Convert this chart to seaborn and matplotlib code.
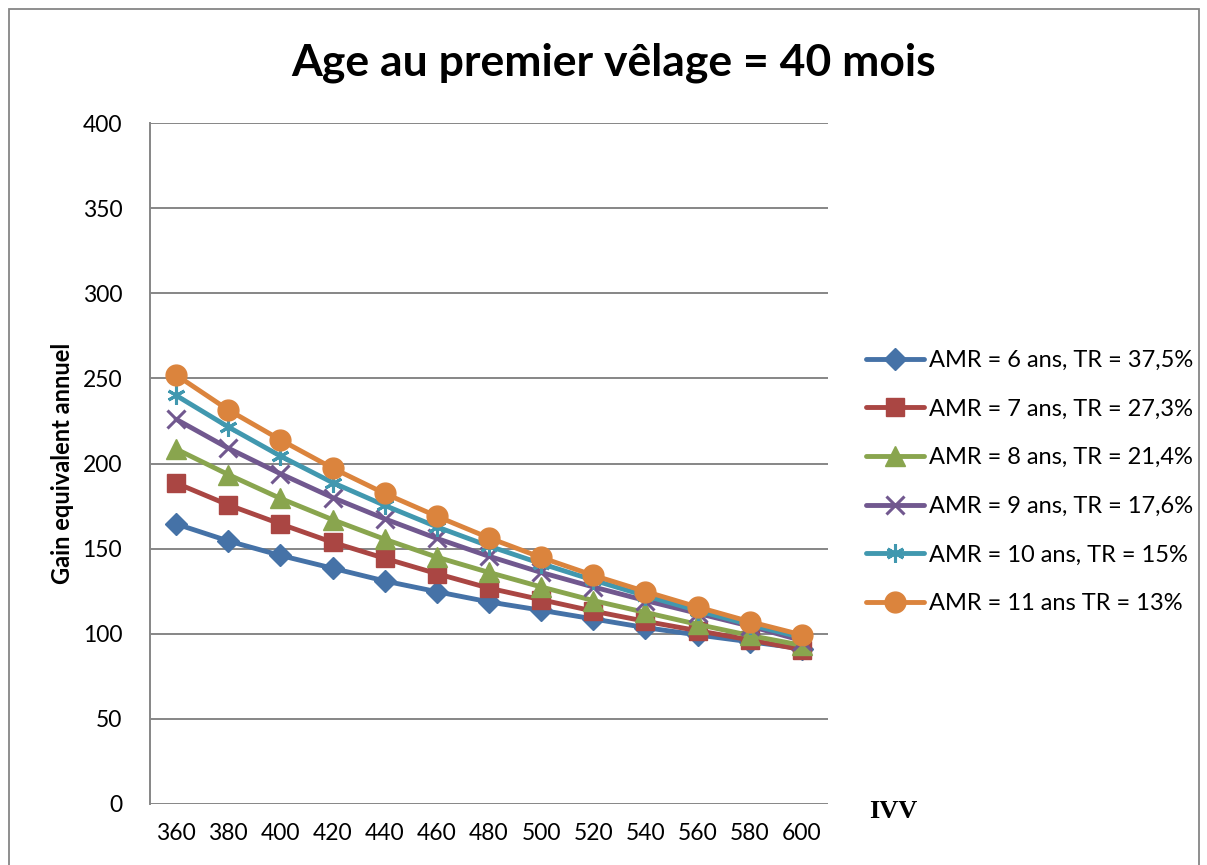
import numpy as np
import pandas as pd
import matplotlib
matplotlib.use("Agg")
import matplotlib.pyplot as plt
import seaborn as sns
from matplotlib.patches import Rectangle

ivv = [360, 380, 400, 420, 440, 460, 480, 500, 520, 540, 560, 580, 600]
amr6 = [164.5, 154.5, 146, 138.5, 131, 124.7, 118.7, 113.8, 108.7, 103.6, 99.3, 95.3, 91.3]
amr7 = [188.5, 175.7, 164.5, 153.7, 144.3, 135.3, 126.8, 120, 113.3, 107.3, 101.8, 96.4, 90.6]
amr8 = [208.5, 193.5, 179.5, 167, 155.5, 145, 136, 127.5, 119.5, 112.5, 105.5, 99, 93.2]
amr9 = [226, 209, 194, 180, 167.5, 156, 145.5, 136, 127.5, 119.5, 112, 104.5, 96]
amr10 = [240, 221.5, 204.4, 188.8, 175.4, 162.8, 151.5, 141.2, 131.5, 122.3, 113.6, 105.3, 97.8]
amr11 = [252, 231.5, 213.9, 197.3, 182.4, 169, 156.3, 144.8, 134.3, 124.8, 115.7, 107.1, 99.3]

labels = ["AMR = 6 ans, TR = 37,5%", "AMR = 7 ans, TR = 27,3%", "AMR = 8 ans, TR = 21,4%",
          "AMR = 9 ans, TR = 17,6%", "AMR = 10 ans, TR = 15%", "AMR = 11 ans TR = 13%"]
series = [amr6, amr7, amr8, amr9, amr10, amr11]
colors = ["#4572A7", "#AA4643", "#89A54E", "#71588F", "#4198AF", "#DB843D"]
markers = ["D", "s", "^", "x", (6, 2, 0), "o"]
msizes = [11, 13, 14, 13, 13, 15]

sns.set_theme(style="white")
plt.rcParams["font.family"] = ["Lato", "DejaVu Sans"]
plt.rcParams["text.color"] = "black"
plt.rcParams["axes.labelcolor"] = "black"

fig = plt.figure(figsize=(12.07, 8.65), dpi=100)
ax = fig.add_axes([150/1207, 1-804/865, (828-150)/1207, (804-123)/865])

for lab, vals, c, m, ms in zip(labels, series, colors, markers, msizes):
    df = pd.DataFrame({"IVV": ivv, "val": vals})
    sns.lineplot(data=df, x="IVV", y="val", ax=ax, color=c, linewidth=3.5,
                 marker=m, markersize=ms, markeredgecolor=c, markerfacecolor=c,
                 markeredgewidth=2.2 if m in ("x", (6, 2, 0)) else 1,
                 label=lab)

ax.set_xlim(350, 610)
ax.set_ylim(0, 400)
ax.set_xticks(ivv)
ax.set_xticklabels([str(v) for v in ivv])
ax.set_yticks(range(0, 401, 50))
ax.grid(axis="y", color="#868686", linewidth=1.4)
ax.grid(axis="x", visible=False)
for s in ["top", "right", "bottom"]:
    ax.spines[s].set_visible(False)
ax.spines["left"].set_color("#868686")
ax.spines["left"].set_linewidth(1.4)
ax.tick_params(axis="y", labelsize=16.5, length=0, pad=20, colors="black")
ax.tick_params(axis="x", labelsize=16.5, length=0, pad=14, colors="black")
ax.set_xlabel("")
ax.set_ylabel("Gain equivalent annuel", fontsize=17, fontweight="bold", labelpad=6,
              color="black")

fig.text(614/1207, 1-63/865, "Age au premier vêlage = 40 mois", ha="center", va="center",
         fontsize=32, fontweight="bold", color="black")
fig.text(893/1207, 1-811/865, "IVV", ha="center", va="center", fontsize=19,
         fontweight="bold", color="black", family=["Liberation Serif", "DejaVu Serif"])

leg = ax.legend(loc="upper left", bbox_to_anchor=(866/1207, 1-350/865),
                bbox_transform=fig.transFigure, frameon=False, fontsize=17,
                handlelength=2.45, handletextpad=0.2, labelspacing=1.17, borderpad=0,
                borderaxespad=0)
for t in leg.get_texts():
    t.set_color("black")

fig.patches.append(Rectangle((9/1207, -0.05), (1199-9)/1207, 1.05-9/865,
                             transform=fig.transFigure, fill=False,
                             edgecolor="#868686", linewidth=1.3))

fig.savefig("out.png", dpi=100)
